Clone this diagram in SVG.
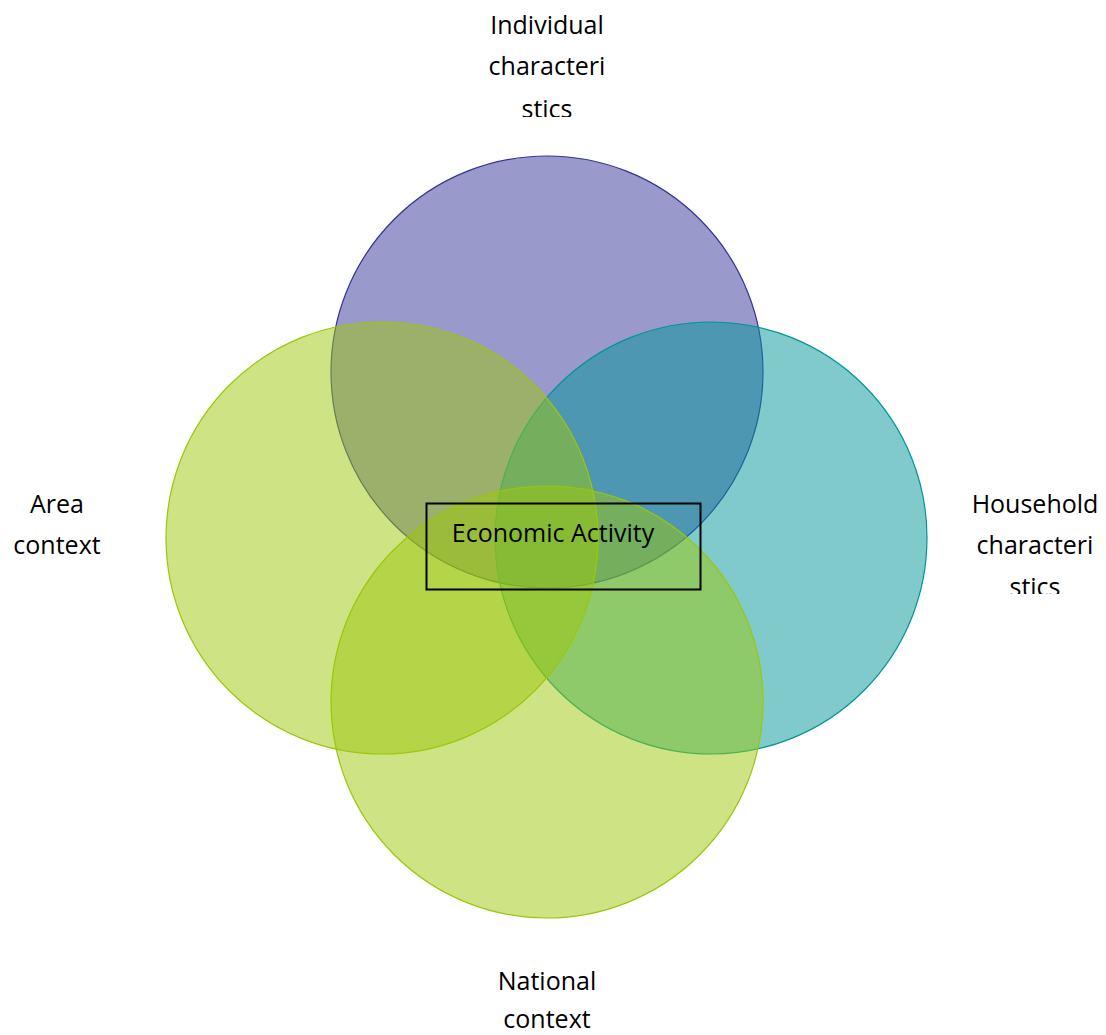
<svg xmlns="http://www.w3.org/2000/svg" width="1106" height="1035" viewBox="0 0 1106 1035">
<style>
.lbl{font-family:"Open Sans","Liberation Sans",sans-serif;font-size:25px;fill:#000;text-anchor:middle}
.c{stroke-width:1.2}
</style>
<defs>
<clipPath id="clipTop"><rect x="400" y="0" width="300" height="117"/></clipPath>
<clipPath id="clipRight"><rect x="940" y="470" width="166" height="124"/></clipPath>
</defs>
<rect width="1106" height="1035" fill="#fff"/>
<g id="circle-individual"><circle class="c" cx="547" cy="372" r="216" fill="#333399" fill-opacity="0.5" stroke="#333399"/></g>
<g id="circle-household"><circle class="c" cx="711" cy="538" r="216" fill="#019597" fill-opacity="0.5" stroke="#019597"/></g>
<g id="circle-area"><circle class="c" cx="382" cy="538" r="216" fill="#9BC709" fill-opacity="0.5" stroke="#9BC709"/></g>
<g id="circle-national"><circle class="c" cx="547" cy="702" r="216" fill="#9BC709" fill-opacity="0.5" stroke="#9BC709"/></g>
<g id="economic-activity">
<rect x="426.5" y="503.5" width="274" height="86" fill="none" stroke="#000" stroke-width="2"/>
<text class="lbl" x="553" y="542">Economic Activity</text>
</g>
<g id="label-individual" clip-path="url(#clipTop)">
<text class="lbl" x="547" y="34">Individual</text>
<text class="lbl" x="547" y="75">characteri</text>
<text class="lbl" x="547" y="118">stics</text>
</g>
<g id="label-household" clip-path="url(#clipRight)">
<text class="lbl" x="1035" y="513">Household</text>
<text class="lbl" x="1035" y="554">characteri</text>
<text class="lbl" x="1035" y="596">stics</text>
</g>
<g id="label-area">
<text class="lbl" x="57" y="513">Area</text>
<text class="lbl" x="57" y="554">context</text>
</g>
<g id="label-national">
<text class="lbl" x="547" y="990">National</text>
<text class="lbl" x="547" y="1028">context</text>
</g>
<g id="connectors"/>
</svg>
